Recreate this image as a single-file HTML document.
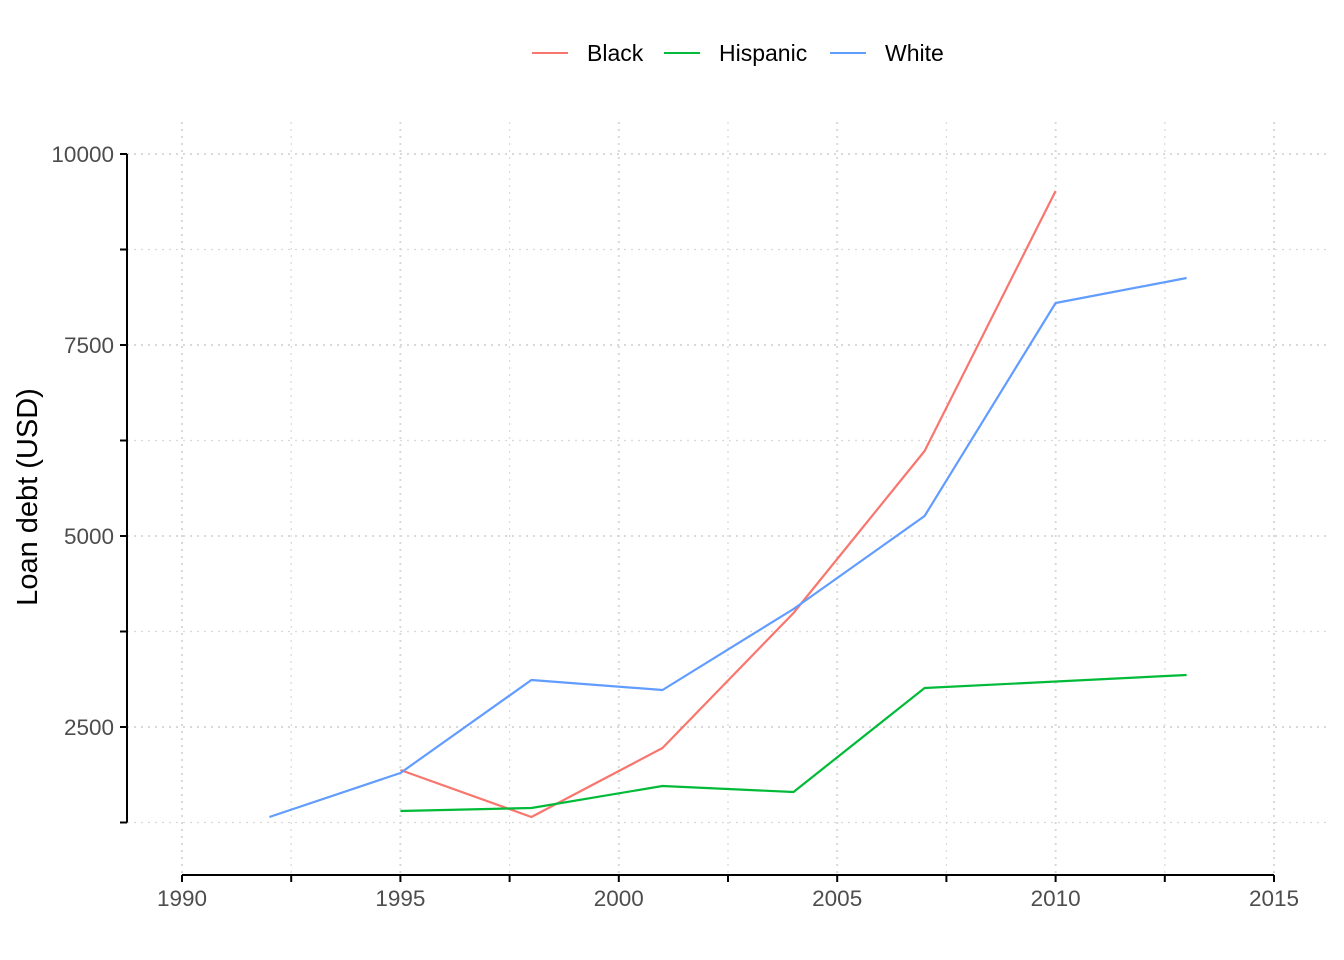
<!DOCTYPE html>
<html><head><meta charset="utf-8">
<style>
html,body{margin:0;padding:0;background:#fff;}
svg{display:block;font-family:"Liberation Sans",Arial,sans-serif;}
</style></head>
<body>
<svg id="chart" width="1344" height="960" viewBox="0 0 1344 960" xmlns="http://www.w3.org/2000/svg">
<g id="grid"></g>
<g id="axes"></g>
<g id="series"></g>
<text transform="translate(37,497) rotate(-90)" text-anchor="middle" font-size="29" fill="#000">Loan debt (USD)</text>
<g font-size="23" fill="#000">
  <g><line x1="532" x2="568" y1="53" y2="53" stroke="#F8766D" stroke-width="2"/><text x="587" y="61">Black</text></g>
  <g><line x1="664" x2="700" y1="53" y2="53" stroke="#00BA38" stroke-width="2"/><text x="719" y="61">Hispanic</text></g>
  <g><line x1="830" x2="866" y1="53" y2="53" stroke="#619CFF" stroke-width="2"/><text x="885" y="61">White</text></g>
</g>
</svg>
<script>
const years = [1992,1995,1998,2001,2004,2007,2010,2013];
const blackValues = [null,1937,1322,2225,3992,6113,9516,null];
const hispanicValues = [null,1401,1440,1728,1649,3010,null,3181];
const whiteValues = [1322,1898,3115,2984,4045,5262,8050,8377];
const xTicks = [1990,1995,2000,2005,2010,2015];
const yTicks = [2500,5000,7500,10000];

const NS="http://www.w3.org/2000/svg";
const xs = v => 182 + (v-1990)*(1092/25);
const ys = v => 154 + (10000-v)*(573/7500);
function mk(tag, attrs, parent){const e=document.createElementNS(NS,tag);for(const k in attrs)e.setAttribute(k,attrs[k]);parent.appendChild(e);return e;}
const grid=document.getElementById('grid'), axes=document.getElementById('axes'), series=document.getElementById('series');

for(let y=1990;y<=2015;y+=2.5){
  const l=mk('line',{x1:xs(y),x2:xs(y),y1:122,y2:875,stroke:'#d9d9d9','stroke-width':y%5===0?2:1.2,'stroke-dasharray':'2,5'},grid);
  
  
}
for(let v=1250;v<=10000;v+=1250){
  const l=mk('line',{x1:127,x2:1326,y1:ys(v),y2:ys(v),stroke:'#d9d9d9','stroke-width':v%2500===0?2:1.2,'stroke-dasharray':'2,5'},grid);
  
  
}
let a=mk('line',{x1:127,x2:127,y1:ys(10000),y2:ys(1250),stroke:'#000','stroke-width':2},axes);


a=mk('line',{x1:xs(1990),x2:xs(2015),y1:875,y2:875,stroke:'#000','stroke-width':2},axes);


for(let v=1250;v<=10000;v+=1250){
  const t=mk('line',{x1:120,x2:127,y1:ys(v),y2:ys(v),stroke:'#000','stroke-width':2},axes);
  
  
}
for(let y=1990;y<=2015;y+=2.5){
  const t=mk('line',{x1:xs(y),x2:xs(y),y1:875,y2:882,stroke:'#000','stroke-width':2},axes);
  
  
}
yTicks.forEach(v=>{
  const t=mk('text',{x:114,y:ys(v)+8,'text-anchor':'end','font-size':22.5,fill:'#4d4d4d'},axes);
  t.textContent=v;
  
  
});
xTicks.forEach(v=>{
  const t=mk('text',{x:xs(v),y:906,'text-anchor':'middle','font-size':22.5,fill:'#4d4d4d'},axes);
  t.textContent=v;
  
  
});
function drawLine(vals,color,name){
  const pts=[];
  vals.forEach((v,i)=>{if(v!==null)pts.push(xs(years[i]).toFixed(1)+','+ys(v).toFixed(1));});
  const p=mk('polyline',{points:pts.join(' '),fill:'none',stroke:color,'stroke-width':2.2,'stroke-linejoin':'round'},series);
  
  
}
drawLine(blackValues,'#F8766D','line-black');
drawLine(hispanicValues,'#00BA38','line-hispanic');
drawLine(whiteValues,'#619CFF','line-white');
</script>
</body></html>
